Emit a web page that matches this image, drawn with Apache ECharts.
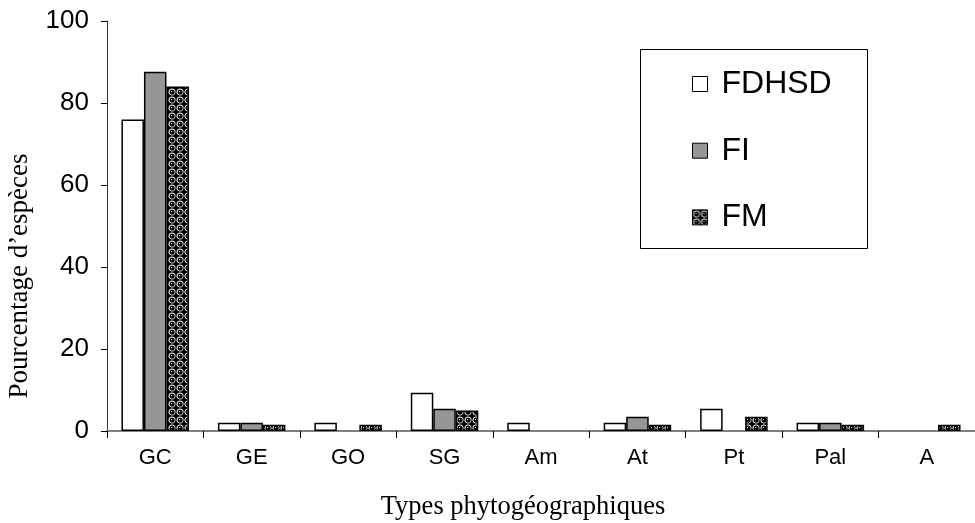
<!DOCTYPE html>
<html>
<head>
<meta charset="utf-8">
<script src="https://cdn.jsdelivr.net/npm/echarts@6/dist/echarts.min.js"></script>
<style>
  html, body { margin: 0; padding: 0; background: #fff; }
  #chart { width: 975px; height: 523px; }
</style>
</head>
<body>
<div id="chart"></div>
<script>
// Phytogeographic types and share of species (%) per forest type
const categories = ['GC', 'GE', 'GO', 'SG', 'Am', 'At', 'Pt', 'Pal', 'A'];
const seriesNames = ['FDHSD', 'FI', 'FM'];
const valuesFDHSD = [76, 2, 2, 9.3, 2, 2, 5.4, 2, 0];
const valuesFI    = [87.6, 2, 0, 5.4, 0, 3.5, 0, 2, 0];
const valuesFM    = [84, 1.5, 1.5, 5, 0, 1.5, 3.5, 1.5, 1.5];
const yTicks = [0, 20, 40, 60, 80, 100];

// Dark "sphere" fill used for the FM bars: black ground, white rings
function spherePattern() {
  const c = document.createElement('canvas');
  c.width = 8; c.height = 8;
  const g = c.getContext('2d');
  g.fillStyle = '#000000';
  g.fillRect(0, 0, 8, 8);
  g.strokeStyle = '#ffffff';
  g.lineWidth = 1;
  g.beginPath(); g.arc(4, 4, 3.1, 0, Math.PI * 2); g.stroke();
  g.fillStyle = '#000000';
  g.beginPath(); g.arc(4.4, 4.4, 2.2, 0, Math.PI * 2); g.fill();
  g.fillStyle = '#ffffff';
  g.fillRect(3, 3, 1, 1);
  return c;
}

const fills = ['#ffffff', '#969696', { image: spherePattern(), repeat: 'repeat' }];
const dataSets = [valuesFDHSD, valuesFI, valuesFM];

const chart = echarts.init(document.getElementById('chart'), null, { renderer: 'canvas' });

chart.setOption({
  animation: false,
  backgroundColor: '#ffffff',
  grid: { left: 107, top: 21, width: 875, height: 410, containLabel: false },
  xAxis: {
    type: 'category',
    data: categories,
    boundaryGap: true,
    axisLine: { lineStyle: { color: '#808080', width: 2 } },
    axisTick: { show: true, length: 7, lineStyle: { color: '#000', width: 1 } },
    axisLabel: { color: '#000', fontFamily: 'Liberation Sans', fontSize: 22, margin: 16 }
  },
  yAxis: {
    type: 'value',
    min: yTicks[0],
    max: yTicks[yTicks.length - 1],
    interval: yTicks[1] - yTicks[0],
    splitLine: { show: false },
    axisLine: { show: true, lineStyle: { color: '#333', width: 1 } },
    axisTick: { show: true, length: 6, lineStyle: { color: '#000' } },
    axisLabel: { color: '#000', fontFamily: 'Liberation Sans', fontSize: 26, margin: 18 }
  },
  legend: {
    orient: 'vertical',
    left: 692,
    top: 68,
    padding: 0,
    icon: 'rect',
    itemWidth: 15,
    itemHeight: 15,
    itemGap: 34.7,
    itemTextGap: 14,
    itemStyle: { borderColor: '#000', borderWidth: 1 },
    textStyle: {
      color: '#000', fontFamily: 'Liberation Sans', fontSize: 32, lineHeight: 32,
      padding: [0, 0, 0, 9]
    },
    data: seriesNames
  },
  graphic: [
    {
      type: 'rect', left: 640, top: 49, z: 0,
      shape: { width: 227, height: 199 },
      style: { fill: '#fff', stroke: '#000', lineWidth: 1 }
    },
    {
      type: 'text', x: 523, y: 507,
      style: {
        text: 'Types phytogéographiques', fill: '#000',
        font: '26.5px "Liberation Serif"', align: 'center', verticalAlign: 'middle'
      }
    },
    {
      type: 'text', x: 20, y: 276, rotation: Math.PI / 2,
      style: {
        text: 'Pourcentage d’espèces', fill: '#000',
        font: '27px "Liberation Serif"', align: 'center', verticalAlign: 'middle'
      }
    }
  ],
  series: seriesNames.map((name, i) => ({
    name: name,
    type: 'bar',
    // zero shares leave the slot empty instead of a flat outlined bar
    data: dataSets[i].map(v => (v === 0 ? '-' : v)),
    barGap: '0%',
    barCategoryGap: '30%',
    itemStyle: { color: fills[i], borderColor: '#000', borderWidth: 1.5 }
  }))
});
</script>
</body>
</html>
